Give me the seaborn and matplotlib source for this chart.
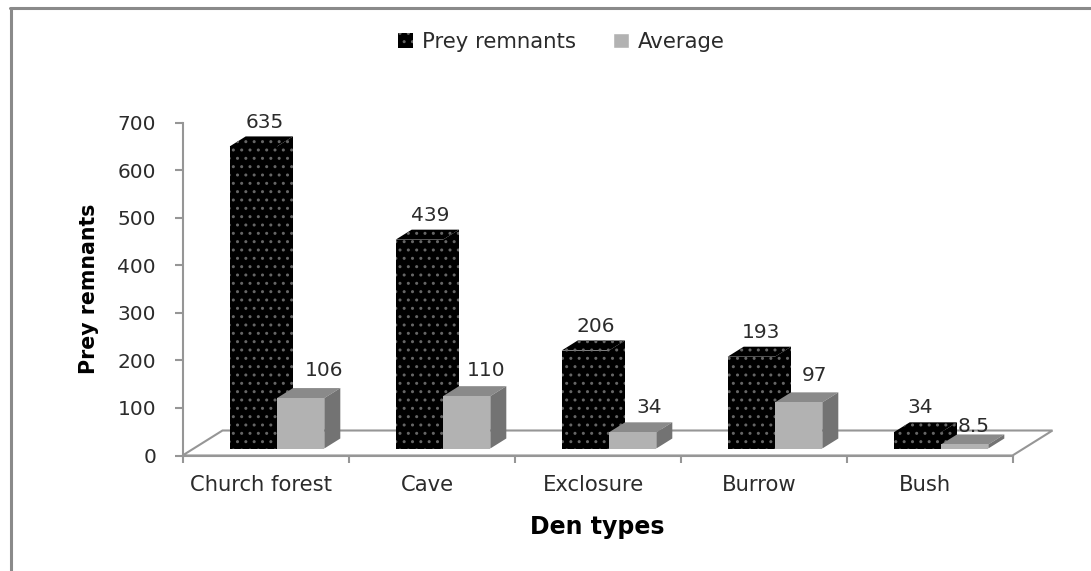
import matplotlib
matplotlib.use('Agg')
import matplotlib.pyplot as plt
import pandas as pd
import seaborn as sns
from matplotlib.patches import Polygon, Patch

den_types = ['Church forest', 'Cave', 'Exclosure', 'Burrow', 'Bush']
prey_remnants = [635, 439, 206, 193, 34]
average = [106, 110, 34, 97, 8.5]
avg_labels = ['106', '110', '34', '97', '8.5']
yticks = [0, 100, 200, 300, 400, 500, 600, 700]

W, H = 1091, 571
sns.set_theme(style='white')
plt.rcParams['font.family'] = ['DejaVu Sans']
plt.rcParams['hatch.color'] = '#666666'

BLACK = '#000000'
GRAY = '#b2b2b2'
AXC = '#969696'
TXT = '#2b2b2b'
DOTS = '..'

fig = plt.figure(figsize=(W / 100, H / 100), dpi=100)


def rect(x0, y0, x1, y1):
    return [x0 / W, 1 - y1 / H, (x1 - x0) / W, (y1 - y0) / H]


# back axes only carries spines, ticks and labels
back = fig.add_axes(rect(182.5, 122.5, 1012.5, 455.5))
back.set_xlim(0, 5)
back.set_ylim(0, 700)
back.set_xticks(range(6))
back.set_xticklabels([])
back.set_yticks(yticks)
back.tick_params(axis='y', length=6, width=1.5, color=AXC, left=True, labelsize=14.5, labelcolor=TXT, pad=13)
back.tick_params(axis='x', length=5, width=1.5, color=AXC, bottom=True)
sns.despine(ax=back)
for s in ['left', 'bottom']:
    back.spines[s].set_color(AXC)
    back.spines[s].set_linewidth(1.5)
for i, name in enumerate(den_types):
    back.text(i + 0.475, -62, name, ha='center', va='center', fontsize=15.2, color=TXT)
back.set_ylabel('Prey remnants', fontsize=14.8, fontweight='bold', color='black', labelpad=13)
back.set_xlabel('Den types', fontsize=17, fontweight='bold', color='black', labelpad=34)

# floor outline
px, py = 1 / 830, 1 / 333
floor = [(0, 0), (40 * px, 25 * py), (870 * px, 25 * py), (1, 0)]
back.add_patch(Polygon(floor, closed=True, fill=False, edgecolor=AXC, lw=1.5,
                       transform=back.transAxes, clip_on=False, zorder=1))

# front plane of the bars sits up and to the right of the axis
ax = fig.add_axes(rect(194, 115.5, 1024, 448.5))
ax.patch.set_alpha(0)
df = pd.DataFrame({
    'den': den_types * 2,
    'value': prey_remnants + average,
    'series': ['Prey remnants'] * 5 + ['Average'] * 5,
})
sns.barplot(data=df, x='den', y='value', hue='series', order=den_types,
            hue_order=['Prey remnants', 'Average'], palette=[BLACK, GRAY],
            width=0.57, gap=0, saturation=1, legend=False, ax=ax, linewidth=0)
ax.set_xlim(-0.5, 4.5)
ax.set_ylim(0, 700)
ax.axis('off')

dx = 16 / 166
dy = 10 * 700 / 333
# label nudges in pixels, the original has them hand placed
nudge_x = [11, 11, 10, 10, 3, 23, 19, 17, 16, 9]
nudge_y = [14, 14, 14, 14, 15, 18, 16, 15, 17, 8]
bars = [b for b in ax.patches if b.get_width() > 0]
for k, b in enumerate(bars):
    x0, w, h = b.get_x(), b.get_width(), b.get_height()
    x1 = x0 + w
    black = k < 5
    b.set_zorder(4 if black else 6)
    b.set_clip_on(False)
    if black:
        b.set_hatch(DOTS)
        b.set_edgecolor('#666666')
    top = Polygon([(x0, h), (x0 + dx, h + dy), (x1 + dx, h + dy), (x1, h)],
                  facecolor=BLACK if black else '#8a8a8a', edgecolor='#666666' if black else 'none',
                  lw=0, hatch=DOTS if black else None, zorder=3 if black else 5, clip_on=False)
    side = Polygon([(x1, 0), (x1 + dx, dy), (x1 + dx, h + dy), (x1, h)],
                   facecolor=BLACK if black else '#737373', edgecolor='#666666' if black else 'none',
                   lw=0, hatch=DOTS if black else None, zorder=3 if black else 5, clip_on=False)
    ax.add_patch(top)
    ax.add_patch(side)
    label = str(prey_remnants[k]) if black else avg_labels[k - 5]
    ax.text(x0 + w / 2 + nudge_x[k] / 166, h + dy + nudge_y[k] * 700 / 333, label, ha='center', va='center',
            fontsize=14.5, color=TXT, zorder=8, clip_on=False)

handles = [Patch(facecolor=BLACK, edgecolor='#666666', lw=0, hatch=DOTS, label='Prey remnants'),
           Patch(facecolor=GRAY, label='Average')]
fig.legend(handles=handles, ncol=2, loc='center', bbox_to_anchor=(561 / W, 1 - 42 / H), frameon=False,
           fontsize=15.3, handlelength=0.75, handleheight=0.75, handletextpad=0.4, columnspacing=1.75,
           labelcolor=TXT)

# picture frame: top and left only
fig.add_artist(plt.Line2D([9.5 / W, 1], [1 - 7.5 / H, 1 - 7.5 / H], color='#8a8a8a', lw=2.2))
fig.add_artist(plt.Line2D([10.5 / W, 10.5 / W], [0, 1 - 7.5 / H], color='#8a8a8a', lw=2.2))

fig.savefig('out.png', dpi=100)
